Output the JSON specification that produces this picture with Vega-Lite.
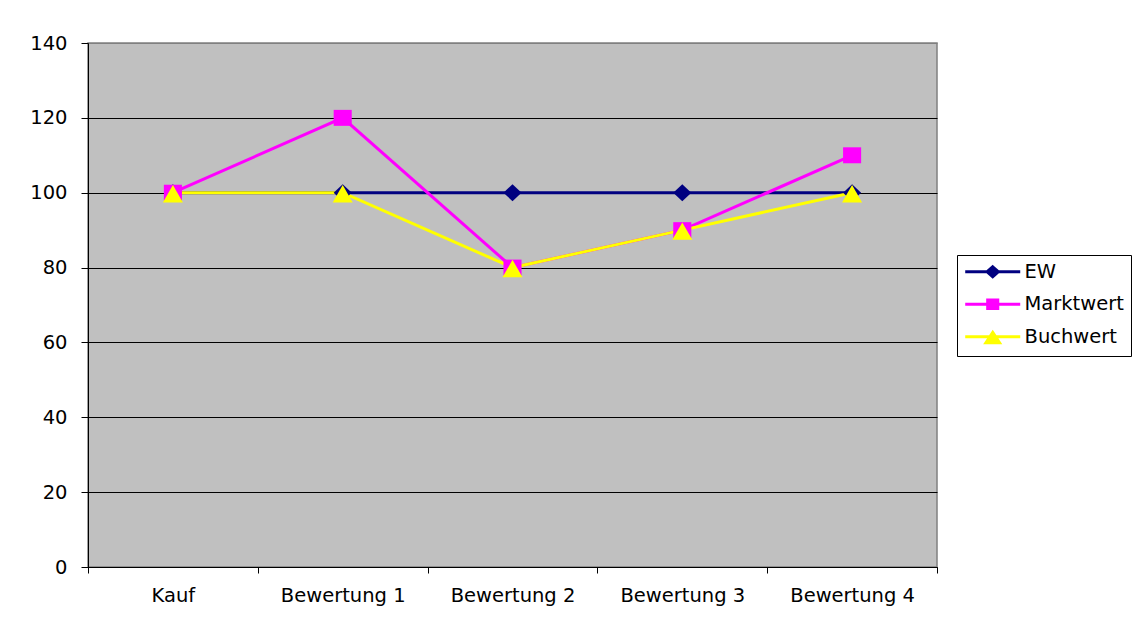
{
  "$schema": "https://vega.github.io/schema/vega-lite/v6.json",
  "autosize": "none",
  "width": 849,
  "height": 524,
  "padding": {"left": 88, "top": 43, "right": 198, "bottom": 56},
  "background": "white",
  "config": {
    "view": {"fill": "#C0C0C0", "stroke": "#808080", "strokeWidth": 1.5},
    "axis": {
      "labelFont": "DejaVu Sans",
      "labelFontSize": 19.5,
      "labelColor": "black",
      "domainColor": "black",
      "tickColor": "black",
      "title": null
    }
  },
  "data": {
    "values": [
      {"stage": "Kauf", "series": "EW", "value": 100},
      {"stage": "Bewertung 1", "series": "EW", "value": 100},
      {"stage": "Bewertung 2", "series": "EW", "value": 100},
      {"stage": "Bewertung 3", "series": "EW", "value": 100},
      {"stage": "Bewertung 4", "series": "EW", "value": 100},
      {"stage": "Kauf", "series": "Marktwert", "value": 100},
      {"stage": "Bewertung 1", "series": "Marktwert", "value": 120},
      {"stage": "Bewertung 2", "series": "Marktwert", "value": 80},
      {"stage": "Bewertung 3", "series": "Marktwert", "value": 90},
      {"stage": "Bewertung 4", "series": "Marktwert", "value": 110},
      {"stage": "Kauf", "series": "Buchwert", "value": 100},
      {"stage": "Bewertung 1", "series": "Buchwert", "value": 100},
      {"stage": "Bewertung 2", "series": "Buchwert", "value": 80},
      {"stage": "Bewertung 3", "series": "Buchwert", "value": 90},
      {"stage": "Bewertung 4", "series": "Buchwert", "value": 100}
    ]
  },
  "encoding": {
    "x": {
      "field": "stage",
      "type": "nominal",
      "sort": null,
      "bandPosition": 0.5,
      "scale": {"type": "band", "paddingInner": 0, "paddingOuter": 0},
      "axis": {
        "labelAngle": 0,
        "tickBand": "extent",
        "tickSize": 6,
        "labelPadding": 13,
        "grid": false
      }
    },
    "y": {
      "field": "value",
      "type": "quantitative",
      "scale": {"domain": [0, 140], "nice": false, "zero": true},
      "axis": {
        "values": [0, 20, 40, 60, 80, 100, 120, 140],
        "grid": true,
        "gridColor": {"condition": {"test": "datum.value === 140", "value": "#808080"}, "value": "black"},
        "gridWidth": 1,
        "tickSize": 7,
        "labelPadding": 14
      }
    }
  },
  "layer": [
    {
      "mark": {"type": "point", "filled": false, "opacity": 0, "size": 196, "strokeWidth": 3},
      "encoding": {
        "color": {
          "field": "series",
          "type": "nominal",
          "sort": null,
          "scale": {"domain": ["EW", "Marktwert", "Buchwert"], "range": ["#000080", "#FF00FF", "#FFFF00"]},
          "legend": {
            "title": null,
            "orient": "none",
            "legendX": 869,
            "legendY": 212,
            "padding": 7,
            "strokeColor": "black",
            "fillColor": "white",
            "labelFont": "DejaVu Sans",
            "labelFontSize": 19.5,
            "labelColor": "black",
            "rowPadding": 10.5,
            "labelOffset": 41,
            "symbolSize": 196,
            "symbolOpacity": 1,
            "symbolStrokeWidth": 3
          }
        },
        "shape": {
          "field": "series",
          "type": "nominal",
          "sort": null,
          "scale": {
            "domain": ["EW", "Marktwert", "Buchwert"],
            "range": [
              "M-1.22,0H6.64M2.71,-0.7L3.51,0L2.71,0.7L1.91,0ZM2.71,-0.39L3.16,0L2.71,0.39L2.26,0ZM2.71,-0.1L2.83,0L2.71,0.1L2.59,0Z",
              "M-1.22,0H6.64M1.99,-0.62H3.43V0.62H1.99ZM2.31,-0.32H3.11V0.32H2.31ZM2.61,-0.05H2.81V0.05H2.61Z",
              "M-1.22,0H6.64M2.71,-0.62L3.68,0.85H1.74ZM2.71,-0.18L3.24,0.63H2.18ZM2.71,0.16L2.9,0.46H2.52Z"
            ]
          },
          "legend": {
            "title": null,
            "orient": "none",
            "legendX": 869,
            "legendY": 212,
            "padding": 7,
            "strokeColor": "black",
            "fillColor": "white",
            "labelFont": "DejaVu Sans",
            "labelFontSize": 19.5,
            "labelColor": "black",
            "rowPadding": 10.5,
            "labelOffset": 41,
            "symbolSize": 196,
            "symbolOpacity": 1,
            "symbolStrokeWidth": 3
          }
        }
      }
    },
    {
      "mark": {"type": "line", "strokeWidth": 3},
      "encoding": {
        "color": {
          "field": "series",
          "type": "nominal",
          "sort": null,
          "scale": {"domain": ["EW", "Marktwert", "Buchwert"], "range": ["#000080", "#FF00FF", "#FFFF00"]}
        }
      }
    },
    {
      "transform": [{"filter": {"field": "series", "equal": "EW"}}],
      "mark": {"type": "point", "filled": true, "opacity": 1, "size": 196, "strokeWidth": 0, "color": "#000080", "shape": "M0,-1.21L1.29,0L0,1.21L-1.29,0Z"}
    },
    {
      "transform": [{"filter": {"field": "series", "equal": "Marktwert"}}],
      "mark": {"type": "point", "filled": true, "opacity": 1, "size": 196, "strokeWidth": 0, "color": "#FF00FF", "shape": "M-1.29,-1.14H1.29V1.14H-1.29Z"}
    },
    {
      "transform": [{"filter": {"field": "series", "equal": "Buchwert"}}],
      "mark": {"type": "point", "filled": true, "opacity": 1, "size": 196, "strokeWidth": 0, "color": "#FFFF00", "shape": "M0,-1.1L1.43,1.39H-1.43Z"}
    }
  ]
}
